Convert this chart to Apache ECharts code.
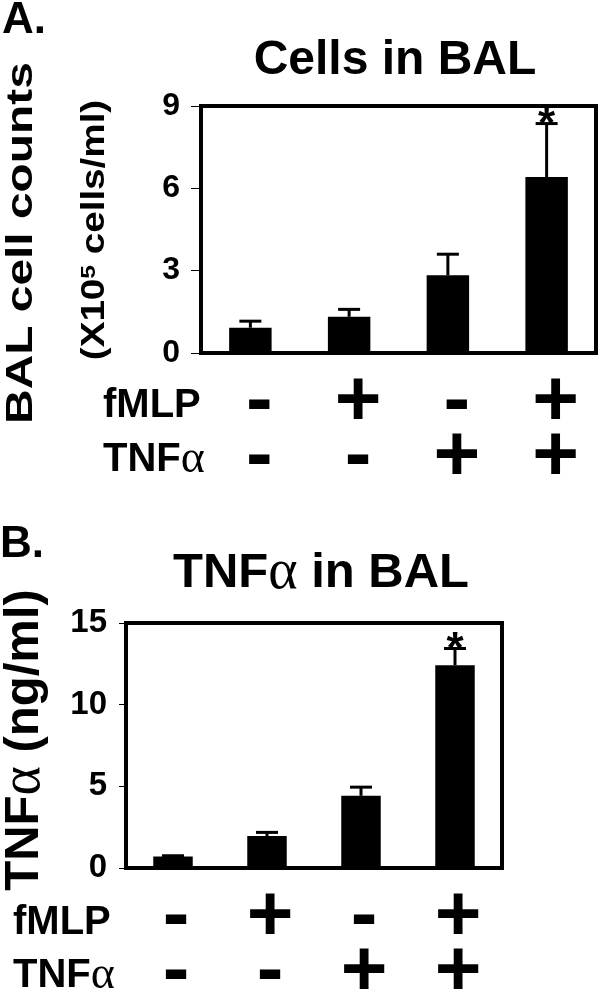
<!DOCTYPE html>
<html>
<head>
<meta charset="utf-8">
<script src="https://cdn.jsdelivr.net/npm/echarts@6/dist/echarts.min.js"></script>
<style>
  html, body { margin: 0; padding: 0; background: #fff; }
  #main { width: 600px; height: 994px; }
</style>
</head>
<body>
<div id="main"></div>
<script>
// data
const groups = ['Control', 'fMLP', 'TNFα', 'fMLP+TNFα'];
const fmlpSigns = ['-', '+', '-', '+'];
const tnfSigns = ['-', '-', '+', '+'];
const significant = [false, false, false, true];

// A. cells in BAL (x10^5 cells/ml)
const cellMean = [0.92, 1.32, 2.83, 6.41];
const cellSd = [0.24, 0.27, 0.77, 1.95];
const cellTicks = [0, 3, 6, 9];

// B. TNFa in BAL (ng/ml)
const tnfMean = [0.7, 1.96, 4.42, 12.42];
const tnfSd = [0.05, 0.22, 0.53, 1.02];
const tnfTicks = [0, 5, 10, 15];

const FONT = "'Liberation Sans', Arial, sans-serif";
const SERIF = "'Liberation Serif', 'Times New Roman', serif";

let chart = echarts.init(document.getElementById('main'));

// error bar (upper only) + asterisk
function errItem(params, api) {
  let i = api.value(0);
  let base = api.coord([i, api.value(1)]);
  let top = api.coord([i, api.value(1) + api.value(2)]);
  let kids = [
    { type: 'line', shape: { x1: base[0], y1: base[1], x2: top[0], y2: top[1] },
      style: { stroke: '#000', lineWidth: 3 } },
    { type: 'line', shape: { x1: top[0] - 11, y1: top[1], x2: top[0] + 11, y2: top[1] },
      style: { stroke: '#000', lineWidth: 3 } }
  ];
  if (significant[i]) {
    kids.push({ type: 'text', x: top[0], y: top[1] + 2,
      style: { text: '*', fill: '#000', font: 'bold 44px ' + FONT, align: 'center', verticalAlign: 'middle' } });
  }
  return { type: 'group', children: kids };
}

function xAxisFor(idx, pad) {
  return {
    type: 'category', gridIndex: idx, data: groups,
    axisLine: { lineStyle: { color: '#000', width: 4 } },
    axisTick: { show: false },
    axisLabel: {
      interval: 0, margin: 22, color: '#000', fontSize: 80, fontWeight: 'bold', fontFamily: FONT,
      lineHeight: 55, padding: [0, 0, 0, pad],
      formatter: (v, i) => fmlpSigns[i] + '\n' + tnfSigns[i]
    }
  };
}

function yAxisFor(idx, ticks, tickLen, margin, size) {
  return {
    type: 'value', gridIndex: idx,
    min: ticks[0], max: ticks[ticks.length - 1], interval: ticks[1] - ticks[0],
    splitLine: { show: false },
    axisLine: { show: true, lineStyle: { color: '#000', width: 3 } },
    axisTick: { show: true, length: tickLen, lineStyle: { color: '#000', width: 1 } },
    axisLabel: { color: '#000', fontSize: size, fontWeight: 'bold', fontFamily: FONT, margin: margin }
  };
}

function txt(x, y, text, size, align) {
  return {
    type: 'text', x: x, y: y,
    style: { text: text, fill: '#000', font: 'bold ' + size + 'px ' + FONT, align: align || 'left', verticalAlign: 'middle' }
  };
}

const alphaRich = (size) => ({
  b: { fontFamily: FONT, fontWeight: 'bold', fontSize: size, fill: '#000' },
  g: { fontFamily: SERIF, fontWeight: 'normal', fontSize: Math.round(size * 1.15), fill: '#000' }
});

let option = {
  animation: false,
  backgroundColor: '#fff',
  grid: [
    { left: 201, right: 4, top: 106, height: 247, show: true, borderColor: '#000', borderWidth: 4,
      containLabel: false, outerBoundsMode: 'none' },
    { left: 126, right: 98, top: 623, height: 245, show: true, borderColor: '#000', borderWidth: 4,
      containLabel: false, outerBoundsMode: 'none' }
  ],
  xAxis: [xAxisFor(0, 18), xAxisFor(1, 6)],
  yAxis: [yAxisFor(0, cellTicks, 10, 21, 32), yAxisFor(1, tnfTicks, 7, 19, 33)],
  series: [
    { type: 'bar', xAxisIndex: 0, yAxisIndex: 0, data: cellMean, barWidth: '43%',
      itemStyle: { color: '#000' }, z: 2 },
    { type: 'custom', xAxisIndex: 0, yAxisIndex: 0, renderItem: errItem, z: 3,
      data: cellMean.map((m, i) => [i, m, cellSd[i]]) },
    { type: 'bar', xAxisIndex: 1, yAxisIndex: 1, data: tnfMean, barWidth: '42%',
      itemStyle: { color: '#000' }, z: 2 },
    { type: 'custom', xAxisIndex: 1, yAxisIndex: 1, renderItem: errItem, z: 3,
      data: tnfMean.map((m, i) => [i, m, tnfSd[i]]) }
  ],
  graphic: [
    // panel A
    txt(2, 21, 'A.', 44),
    txt(395, 61, 'Cells in BAL', 48, 'center'),
    { type: 'text', x: 22, y: 243, rotation: Math.PI / 2, scaleX: 1.33,
      style: { text: 'BAL cell counts', fill: '#000', font: 'bold 36px ' + FONT, align: 'center', verticalAlign: 'middle' } },
    { type: 'text', x: 95, y: 230, rotation: Math.PI / 2, scaleX: 1.17,
      style: { text: '{n|(X10}{s|5}{n| cells/ml)}', align: 'center', verticalAlign: 'middle',
        rich: {
          n: { fontFamily: FONT, fontWeight: 'bold', fontSize: 33, fill: '#000' },
          s: { fontFamily: FONT, fontWeight: 'bold', fontSize: 21, fill: '#000', verticalAlign: 'top' }
        } } },
    txt(103, 406, 'fMLP', 40),
    { type: 'text', x: 103, y: 460,
      style: { text: '{b|TNF}{g|α}', align: 'left', verticalAlign: 'middle', rich: alphaRich(40) } },

    // panel B
    txt(0, 545, 'B.', 44),
    { type: 'text', x: 321, y: 573,
      style: { text: '{b|TNF}{g|α}{b| in BAL}', align: 'center', verticalAlign: 'middle', rich: alphaRich(49) } },
    { type: 'text', x: 24, y: 740, rotation: Math.PI / 2,
      style: { text: '{b|TNF}{g|α}{b| (ng/ml)}', align: 'center', verticalAlign: 'middle', rich: alphaRich(49) } },
    txt(13, 923, 'fMLP', 40),
    { type: 'text', x: 13, y: 976,
      style: { text: '{b|TNF}{g|α}', align: 'left', verticalAlign: 'middle', rich: alphaRich(40) } }
  ]
};

chart.setOption(option);
</script>
</body>
</html>
